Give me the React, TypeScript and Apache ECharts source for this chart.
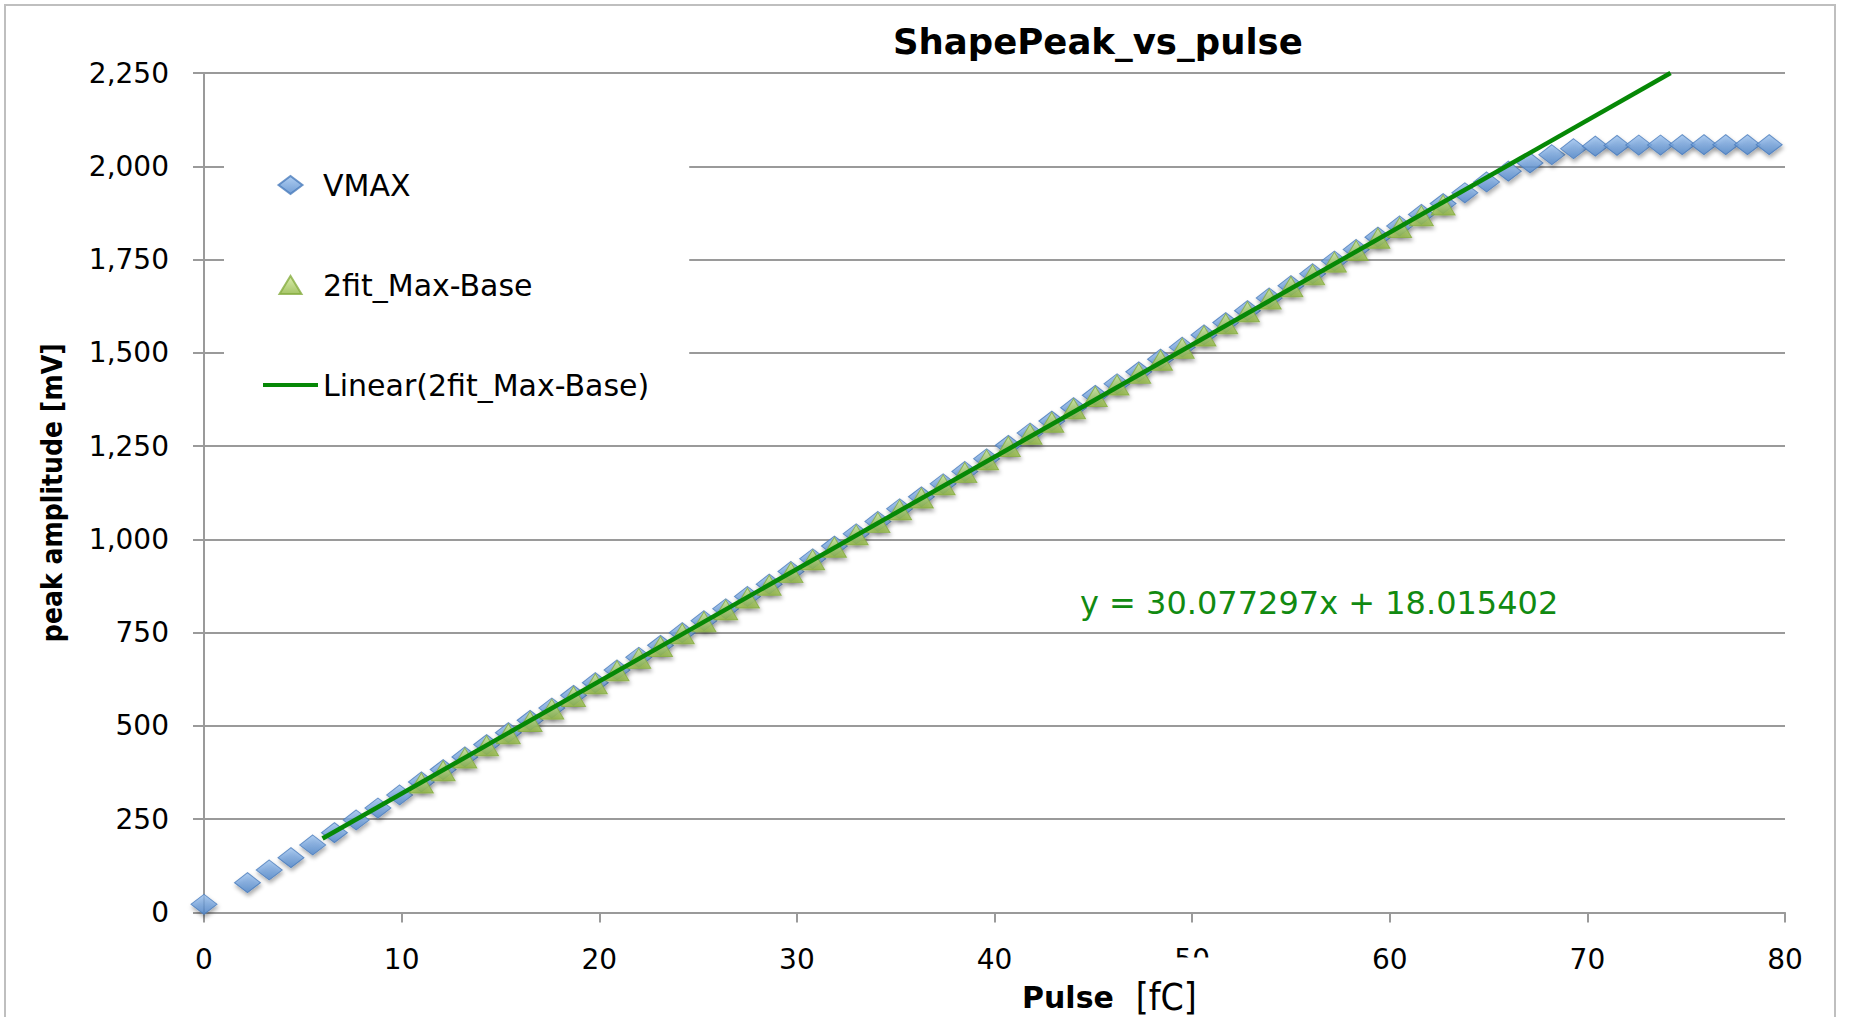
import React, { useEffect, useRef } from "react";
import * as echarts from "echarts";

// Injected charge per step [fC]
const PULSE_FC = [
  0, 2.2, 3.3, 4.4, 5.5, 6.6, 7.7, 8.8, 9.9, 11, 12.1, 13.2, 14.3, 15.4, 16.5,
  17.6, 18.7, 19.8, 20.9, 22, 23.1, 24.2, 25.3, 26.4, 27.5, 28.6, 29.7, 30.8,
  31.9, 33, 34.1, 35.2, 36.3, 37.4, 38.5, 39.6, 40.7, 41.8, 42.9, 44, 45.1,
  46.2, 47.3, 48.4, 49.5, 50.6, 51.7, 52.8, 53.9, 55, 56.1, 57.2, 58.3, 59.4,
  60.5, 61.6, 62.7, 63.8, 64.9, 66, 67.1, 68.2, 69.3, 70.4, 71.5, 72.6, 73.7,
  74.8, 75.9, 77, 78.1, 79.2,
];

// Raw peak amplitude [mV]
const VMAX_MV = [
  22, 80, 114, 147, 181, 214, 248, 280, 315, 350, 383, 417, 450, 482, 515,
  548, 582, 616, 650, 684, 716, 750, 782, 814, 847, 880, 914, 948, 982, 1015,
  1048, 1082, 1114, 1149, 1182, 1216, 1252, 1285, 1317, 1353, 1386, 1417,
  1449, 1483, 1515, 1548, 1581, 1613, 1647, 1680, 1712, 1746, 1777, 1810,
  1840, 1871, 1900, 1929, 1958, 1987, 2009, 2031, 2047, 2054, 2056, 2057,
  2057, 2058, 2058, 2058, 2058, 2058,
];

// Points used for the fit (baseline-subtracted maximum)
const FIT_PULSE_FC = [
  11, 12.1, 13.2, 14.3, 15.4, 16.5, 17.6, 18.7, 19.8, 20.9, 22, 23.1, 24.2,
  25.3, 26.4, 27.5, 28.6, 29.7, 30.8, 31.9, 33, 34.1, 35.2, 36.3, 37.4, 38.5,
  39.6, 40.7, 41.8, 42.9, 44, 45.1, 46.2, 47.3, 48.4, 49.5, 50.6, 51.7, 52.8,
  53.9, 55, 56.1, 57.2, 58.3, 59.4, 60.5, 61.6, 62.7,
];
const FIT_MV = [
  347, 380, 414, 447, 479, 512, 545, 579, 613, 648, 681, 713, 747, 779, 811,
  843, 877, 911, 945, 979, 1012, 1045, 1079, 1111, 1146, 1179, 1213, 1249,
  1282, 1314, 1350, 1383, 1414, 1445, 1480, 1512, 1545, 1578, 1610, 1644,
  1677, 1709, 1743, 1774, 1807, 1836, 1867, 1896,
];

// Linear trendline of the fit series
const TREND_SLOPE = 30.077297;
const TREND_INTERCEPT = 18.015402;
const TREND_RANGE_FC = [6.0, 74.21];

const SERIES_NAMES = ["VMAX", "2fit_Max-Base", "Linear(2fit_Max-Base)"];

// Legend icons drawn inside a 55x18 box (the two leading move-tos fix the box)
const ICON_DIAMOND = "path://M0,0M55,18M15.5,9L27.5,0L39.5,9L27.5,18Z";
const ICON_TRIANGLE = "path://M0,0M55,18M16.5,18L27.5,0L38.5,18Z";
const ICON_LINE = "path://M0,0M55,18M0,7H55V11H0Z";

const GRID_GRAY = "#9a9a9a";
const FONT = '"DejaVu Sans", sans-serif';
const FONT_NARROW = '"DejaVu Sans Condensed", "Liberation Sans Narrow", "DejaVu Sans", sans-serif';

const BLUE_FILL = {
  type: "linear",
  x: 0, y: 0, x2: 0, y2: 1,
  colorStops: [
    { offset: 0, color: "#9cc2ef" },
    { offset: 1, color: "#4f86cb" },
  ],
};
const GREEN_FILL = {
  type: "linear",
  x: 0, y: 0, x2: 0, y2: 1,
  colorStops: [
    { offset: 0, color: "#d3ea98" },
    { offset: 1, color: "#8fb642" },
  ],
};
const TREND_GREEN = "#068806";

export default function App() {
  const ref = useRef<HTMLDivElement>(null);

  useEffect(() => {
    if (!ref.current) return;
    const chart = echarts.init(ref.current, undefined, { renderer: "svg" });

    const shadow = {
      shadowBlur: 4,
      shadowColor: "rgba(0,0,0,0.4)",
      shadowOffsetX: 1,
      shadowOffsetY: 3,
    };

    const option = {
      animation: false,
      backgroundColor: "#ffffff",
      title: {
        text: "ShapePeak_vs_pulse",
        left: 893,
        top: 23,
        padding: 0,
        textStyle: {
          fontFamily: FONT,
          fontWeight: "bold",
          fontSize: 35.5,
          color: "#000",
        },
      },
      legend: {
        orient: "vertical",
        left: 224,
        top: 100,
        padding: [70, 40, 30, 38],
        backgroundColor: "#ffffff",
        itemWidth: 55,
        itemHeight: 18,
        itemGap: 70,
        selectedMode: false,
        textStyle: {
          fontFamily: FONT,
          fontSize: 30,
          lineHeight: 30,
          color: "#000",
        },
        data: [
          { name: SERIES_NAMES[0], icon: ICON_DIAMOND },
          { name: SERIES_NAMES[1], icon: ICON_TRIANGLE },
          { name: SERIES_NAMES[2], icon: ICON_LINE },
        ],
      },
      grid: { left: 204, right: 66, top: 73, bottom: 104.5 },
      xAxis: {
        type: "value",
        min: 0,
        max: 80,
        interval: 10,
        axisLine: { show: true, lineStyle: { color: GRID_GRAY, width: 2 } },
        axisTick: { show: true, length: 10, lineStyle: { color: GRID_GRAY, width: 2 } },
        axisLabel: { fontFamily: FONT, fontSize: 28, color: "#000", margin: 33 },
        splitLine: { show: false },
      },
      yAxis: {
        type: "value",
        min: 0,
        max: 2250,
        interval: 250,
        name: "peak amplitude [mV]",
        nameLocation: "middle",
        nameGap: 138,
        nameTextStyle: {
          fontFamily: FONT_NARROW,
          fontWeight: "bold",
          fontSize: 28,
          color: "#000",
        },
        axisLine: { show: true, lineStyle: { color: GRID_GRAY, width: 2 } },
        axisTick: { show: true, length: 11, lineStyle: { color: GRID_GRAY, width: 2 } },
        axisLabel: {
          fontFamily: FONT,
          fontSize: 28,
          color: "#000",
          margin: 35,
          formatter: (v: number) => v.toLocaleString("en-US"),
        },
        splitLine: { show: true, lineStyle: { color: GRID_GRAY, width: 2 } },
      },
      series: [
        {
          name: SERIES_NAMES[0],
          type: "scatter",
          symbol: "diamond",
          symbolSize: [26, 20],
          data: PULSE_FC.map((x, i) => [x, VMAX_MV[i]]),
          itemStyle: {
            color: BLUE_FILL,
            borderColor: "#4a7cbc",
            borderWidth: 1,
            ...shadow,
          },
          z: 2,
        },
        {
          name: SERIES_NAMES[1],
          type: "scatter",
          symbol: "triangle",
          symbolSize: [24, 20],
          data: FIT_PULSE_FC.map((x, i) => [x, FIT_MV[i]]),
          itemStyle: {
            color: GREEN_FILL,
            borderColor: "#86ad40",
            borderWidth: 1,
            ...shadow,
          },
          z: 3,
        },
        {
          name: SERIES_NAMES[2],
          type: "line",
          symbol: "none",
          data: TREND_RANGE_FC.map((x) => [x, TREND_SLOPE * x + TREND_INTERCEPT]),
          lineStyle: { color: TREND_GREEN, width: 4.5 },
          itemStyle: { color: TREND_GREEN },
          z: 4,
        },
      ],
      graphic: [
        {
          type: "rect",
          silent: true,
          shape: { x: 5, y: 5, width: 1830, height: 1040 },
          style: { fill: "none", stroke: "#bfbfbf", lineWidth: 2 },
          z: 0,
        },
        {
          type: "text",
          silent: true,
          x: 1080,
          y: 603,
          z: 100,
          style: {
            text: `y = ${TREND_SLOPE}x + ${TREND_INTERCEPT}`,
            fontFamily: FONT,
            fontSize: 32,
            fill: "#118a11",
            verticalAlign: "middle",
            align: "left",
          },
        },
        {
          type: "rect",
          silent: true,
          z: 100,
          shape: { x: 1015, y: 957.5, width: 225, height: 60 },
          style: { fill: "#ffffff" },
        },
        {
          type: "text",
          silent: true,
          x: 1022,
          y: 997,
          z: 101,
          style: {
            text: "{b|Pulse}{n|[fC]}",
            verticalAlign: "middle",
            align: "left",
            rich: {
              b: {
                fontFamily: FONT,
                fontWeight: "bold",
                fontSize: 30,
                fill: "#000",
              },
              n: {
                fontFamily: FONT_NARROW,
                fontSize: 37,
                fill: "#000",
                padding: [0, 0, 0, 22],
              },
            },
          },
        },
      ],
    };

    chart.setOption(option as any);
    return () => chart.dispose();
  }, []);

  return (
    <div
      ref={ref}
      style={{
        position: "fixed",
        left: 0,
        top: 0,
        width: 1851,
        height: 1017,
        background: "#ffffff",
      }}
    />
  );
}
